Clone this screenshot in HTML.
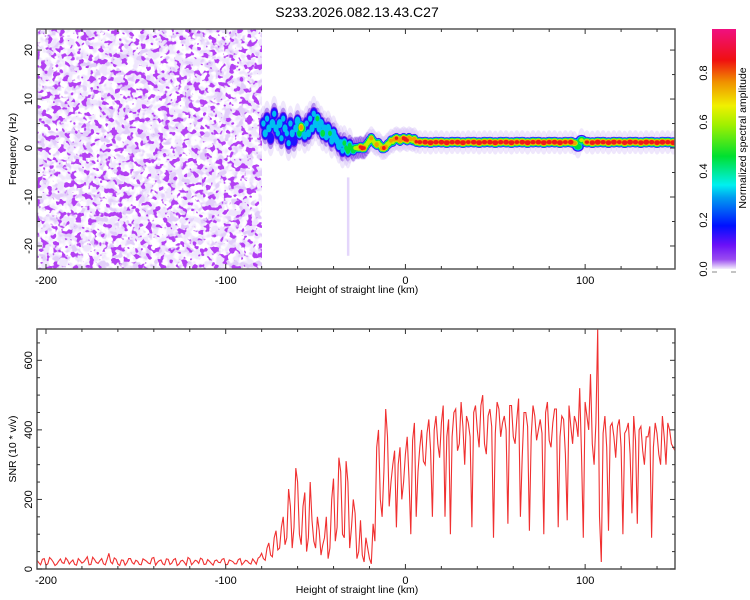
<!DOCTYPE html>
<html><head><meta charset="utf-8">
<style>
body{margin:0;background:#fff;}
svg{display:block;font-family:"Liberation Sans",sans-serif;}
</style></head>
<body>
<svg id="chart" width="750" height="600" viewBox="0 0 750 600">
<defs>
<filter id="noiseLight" x="0" y="0" width="100%" height="100%">
<feTurbulence type="fractalNoise" baseFrequency="0.12" numOctaves="2" seed="3"/>
<feColorMatrix type="matrix" values="0 0 0 0 0.86  0 0 0 0 0.79  0 0 0 0 0.98  6 0 0 0 -2.6"/>
</filter>
<filter id="noiseMid" x="0" y="0" width="100%" height="100%">
<feTurbulence type="fractalNoise" baseFrequency="0.13" numOctaves="2" seed="11"/>
<feColorMatrix type="matrix" values="0 0 0 0 0.76  0 0 0 0 0.62  0 0 0 0 0.96  9 0 0 0 -5.0"/>
</filter>
<filter id="noiseDark" x="0" y="0" width="100%" height="100%">
<feTurbulence type="fractalNoise" baseFrequency="0.17" numOctaves="2" seed="27"/>
<feColorMatrix type="matrix" values="0 0 0 0 0.45  0 0 0 0 0.05  0 0 0 0 0.90  14 0 0 0 -7.9"/>
</filter>
<linearGradient id="cmap" x1="0" y1="1" x2="0" y2="0">
<stop offset="0" stop-color="#f4eefc"/>
<stop offset="0.04" stop-color="#9a4cf0"/>
<stop offset="0.1" stop-color="#6a10f8"/>
<stop offset="0.18" stop-color="#0010ff"/>
<stop offset="0.3" stop-color="#00a0f0"/>
<stop offset="0.35" stop-color="#00f0f0"/>
<stop offset="0.47" stop-color="#00e030"/>
<stop offset="0.6" stop-color="#a0f000"/>
<stop offset="0.68" stop-color="#f0f000"/>
<stop offset="0.78" stop-color="#f09000"/>
<stop offset="0.87" stop-color="#f01010"/>
<stop offset="1" stop-color="#f01080"/>
</linearGradient>
<clipPath id="clipTop"><rect x="37" y="29" width="638" height="240"/></clipPath>
<clipPath id="clipBot"><rect x="37" y="329" width="638" height="240"/></clipPath>
</defs>
<text x="357" y="17" text-anchor="middle" font-size="14">S233.2026.082.13.43.C27</text>
<g id="top"></g>
<g id="bot"></g>
<g id="cbar"></g>
</svg>
<script>
// ---- data ----
const trackX = [-79,-78,-77,-76,-75,-74,-73,-72,-71,-70,-69,-68,-67,-66,-65,-64,-63,-62,-61,-60,-59,-58,-57,-56,-55,-54,-53,-52,-51,-50,-49,-48,-47,-46,-45,-44,-43,-42,-41,-40,-39,-38,-37,-36,-35,-34,-33,-32,-31,-30,-29,-28,-27,-26,-25,-24,-23,-22,-21,-20,-19,-18,-17,-16,-15,-14,-13,-12,-11,-10,-9,-8,-7,-6,-5,-4,-3,-2,-1,0,1,2,3,4,5,6,8,11,14,17,20,23,26,29,32,35,38,41,44,47,50,53,56,59,62,65,68,71,74,77,80,83,86,89,92,94,96,98,101,104,107,110,113,116,119,122,125,128,131,134,137,140,143,146,149];
const trackF = [5,3,6,4,2,5,7,4,3,5,2,6,4,3,1,5,3,1.5,4,5.5,3,4.2,4,2.5,5,3,6,4,7,5,6,4,5,3,4,2.5,4,3,1.5,3,2,1.5,0.5,1,-0.5,1,0,-0.5,0.5,0,-0.5,0,0,0,0.2,0,0,0.5,1,1.5,2,1.5,1,0.7,1,0.5,0,0,0.2,0.7,1,1.5,1.3,1.8,2,1.8,1.5,1.8,2,1.8,1.6,2,1.8,1.6,1.8,1.3,1.2,1.2,1.1,1.2,1.2,1.1,1.2,1.2,1.1,1.2,1.2,1.1,1.2,1.2,1.1,1.2,1.2,1.1,1.2,1.2,1.1,1.2,1.2,1.1,1.2,1.2,1.1,1.2,1.2,1.0,0.3,1.6,1.2,1.1,1.2,1.2,1.1,1.2,1.2,1.1,1.2,1.2,1.1,1.2,1.2,1.1,1.2,1.2,1.1];
const trackA = [0.3,0.35,0.3,0.35,0.25,0.4,0.3,0.35,0.3,0.4,0.3,0.3,0.35,0.3,0.3,0.3,0.35,0.25,0.35,0.4,0.5,0.75,0.5,0.35,0.3,0.35,0.3,0.35,0.3,0.4,0.45,0.35,0.4,0.5,0.35,0.4,0.4,0.45,0.35,0.4,0.4,0.35,0.4,0.35,0.3,0.45,0.45,0.5,0.45,0.5,0.55,0.6,0.65,0.7,0.85,0.92,0.85,0.7,0.65,0.7,0.75,0.65,0.7,0.8,0.65,0.7,0.8,0.88,0.8,0.7,0.7,0.75,0.65,0.8,0.85,0.8,0.75,0.8,0.88,0.92,0.85,0.8,0.75,0.7,0.8,0.85,0.88,0.92,0.95,0.9,0.93,0.95,0.9,0.93,0.95,0.88,0.93,0.95,0.9,0.92,0.95,0.9,0.93,0.95,0.88,0.93,0.95,0.9,0.92,0.95,0.9,0.93,0.95,0.88,0.92,0.75,0.55,0.6,0.85,0.92,0.95,0.9,0.93,0.95,0.88,0.93,0.95,0.9,0.92,0.95,0.9,0.93,0.95,0.9,0.95];
const snrX0 = -205, snrStep = 2;
const snrValues = [
25,12,30,15,28,10,22,18,32,14,
26,11,24,20,35,13,27,16,30,12,
45,15,28,10,25,18,30,14,22,12,
26,17,31,11,24,15,29,13,27,10,
23,19,33,12,25,16,28,14,22,11,
26,18,30,13,24,15,27,12,25,17,
29,14,35,30,60,40,90,55,120,70,
230,60,290,100,180,50,250,80,150,40,
90,30,200,80,320,100,310,60,200,30,
140,20,60,15,80,400,150,460,180,300,
120,350,250,380,100,420,280,400,300,430,
150,440,320,470,380,100,450,340,480,300,
420,120,470,350,500,330,460,90,480,380,
440,130,470,360,490,320,450,110,470,370,
430,100,480,350,460,120,440,330,470,360,
420,520,90,440,560,300,690,20,440,110,
420,320,430,100,400,330,440,130,410,300,
380,90,420,330,440,300,400,350];
const snrX0B = -204;
const snrValuesB = [
18,28,11,33,20,14,29,16,25,21,
13,30,17,27,12,34,19,24,15,28,
20,32,14,26,11,30,18,25,13,29,
22,15,33,19,26,12,28,17,30,14,
25,11,29,18,23,31,13,27,16,24,
19,28,12,26,21,15,30,18,23,14,
22,31,45,25,75,35,110,60,150,90,
180,120,250,70,220,90,140,60,110,70,
150,60,260,120,280,90,250,120,160,50,
40,90,30,130,350,200,280,380,250,340,
300,200,330,260,370,150,350,310,390,340,
400,360,420,150,430,380,460,360,410,440,
380,450,400,470,360,440,410,390,460,420,
400,470,380,430,150,450,410,380,440,400,
390,450,370,420,460,380,430,140,410,440,
380,330,480,400,360,420,150,390,350,410,
380,410,350,390,420,160,370,400,340,380,
410,350,390,300,380,420,360,340];
const xTicks = [-200,-100,0,100];
const fTicks = [-20,-10,0,10,20];
const snrTicks = [0,200,400,600];
const cbTicks = ['0.0','0.2','0.4','0.6','0.8'];
const levels = [0.06,0.15,0.3,0.45,0.6,0.72,0.85];
const levelColors = ['#7a28e8','#2010ff','#00c0f0','#00e040','#c0f000','#f0a000','#f01818'];

// ---- scales ----
const L=37,R=675;
const xs = v => L + (v + 205) / 355 * (R - L);
const fy = v => 269 - (v + 24.7) / 49 * 240;
const sy = v => 569 - v / 690 * 240;
const NS='http://www.w3.org/2000/svg';
function mk(parent, tag, attrs, text){const e=document.createElementNS(NS,tag);for(const k in attrs)e.setAttribute(k,attrs[k]);if(text!==undefined)e.textContent=text;parent.appendChild(e);return e;}

const topG=document.getElementById('top'), botG=document.getElementById('bot'), cbG=document.getElementById('cbar');

// noise region
const ng = mk(topG,'g',{'clip-path':'url(#clipTop)'});


['noiseLight','noiseMid','noiseDark'].forEach(f=>{mk(ng,'rect',{x:L,y:29,width:xs(-80)-L,height:240,filter:'url(#'+f+')'});});
mk(ng,'rect',{x:xs(-32)-1,y:fy(-6),width:2.5,height:fy(-22)-fy(-6),fill:'#e4d6fb'});

// signal track
const tg = mk(topG,'g',{'clip-path':'url(#clipTop)'});


trackX.forEach((x,i)=>{
  const cx=xs(x), cy=fy(trackF[i]);
  mk(tg,'ellipse',{cx:cx,cy:cy,rx:4,ry:x<-30?18:12,fill:'#d6c4f7',opacity:0.4});
  if(x<-20) mk(tg,'ellipse',{cx:cx,cy:cy,rx:3.5,ry:11,fill:'#7028e0',opacity:0.45});
});
levels.forEach((lv,li)=>{
  trackX.forEach((x,i)=>{
    const a=trackA[i]; if(lv>a) return;
    const k=Math.sqrt(1-lv/(a+0.05));
    const e=mk(tg,'ellipse',{cx:xs(x),cy:fy(trackF[i]),rx:(x>7?5.5:3.6)*k+0.8,ry:(x<-30?7:5)*k+0.5,fill:levelColors[li]});
    
    
  });
});

// SNR line (merge both sample sets by x)
const pts=[];
snrValues.forEach((v,i)=>pts.push([snrX0+i*snrStep,v]));
snrValuesB.forEach((v,i)=>pts.push([snrX0B+i*snrStep,v]));
pts.sort((a,b)=>a[0]-b[0]);
let d='';
pts.forEach((p,i)=>{d+=(i?'L':'M')+xs(p[0]).toFixed(1)+','+sy(p[1]).toFixed(1);});
const line=mk(botG,'path',{d:d,fill:'none',stroke:'#f03030','stroke-width':1.1,'clip-path':'url(#clipBot)'});



// axes
function frame(g,y0,y1,yTicks,yScale,minorStep,yMin,yMax,ylabel){
  const f=mk(g,'rect',{x:L,y:y0,width:R-L,height:y1-y0,fill:'none',stroke:'#555','stroke-width':1.5});
  
  
  for(let v=-200;v<=140;v+=20){const X=xs(v),len=(v%100===0)?5:3;
    mk(g,'line',{x1:X,x2:X,y1:y1,y2:y1-len,stroke:'#333'});mk(g,'line',{x1:X,x2:X,y1:y0,y2:y0+len,stroke:'#333'});}
  xTicks.forEach(v=>{const t=mk(g,'text',{x:xs(v),y:y1+15,'text-anchor':'middle','font-size':11},String(v));
    });
  for(let v=yMin;v<=yMax;v+=minorStep){const Y=yScale(v),major=yTicks.includes(v),len=major?5:3;
    mk(g,'line',{x1:L,x2:L+len,y1:Y,y2:Y,stroke:'#333'});mk(g,'line',{x1:R,x2:R-len,y1:Y,y2:Y,stroke:'#333'});}
  yTicks.forEach(v=>{const Y=yScale(v);const t=mk(g,'text',{x:0,y:0,'text-anchor':'middle','font-size':11,transform:'translate(32,'+Y+') rotate(-90)'},String(v));
    });
  const xl=mk(g,'text',{x:357,y:y1+24,'text-anchor':'middle','font-size':10.5},'Height of straight line (km)');
  
  const yl=mk(g,'text',{x:0,y:0,'text-anchor':'middle','font-size':10.5,transform:'translate(16,'+((y0+y1)/2)+') rotate(-90)'},ylabel);
  
}
frame(topG,29,269,fTicks,fy,5,-20,20,'Frequency (Hz)');
frame(botG,329,569,snrTicks,sy,50,0,650,'SNR (10 * v/v)');

// colorbar
const bar=mk(cbG,'rect',{x:712,y:29,width:24,height:240,fill:'url(#cmap)'});


cbTicks.forEach((s,i)=>{const Y=269-i*49;const t=mk(cbG,'text',{x:0,y:0,'text-anchor':'middle','font-size':11,transform:'translate(707,'+Y+') rotate(-90)'},s);
  });
mk(cbG,'line',{x1:712,x2:717,y1:272,y2:272,stroke:'#888'});mk(cbG,'line',{x1:731,x2:736,y1:272,y2:272,stroke:'#888'});
const cbt=mk(cbG,'text',{x:0,y:0,'text-anchor':'middle','font-size':10.5,transform:'translate(746,138) rotate(-90)'},'Normalized spectral amplitude');


</script>
</body></html>
